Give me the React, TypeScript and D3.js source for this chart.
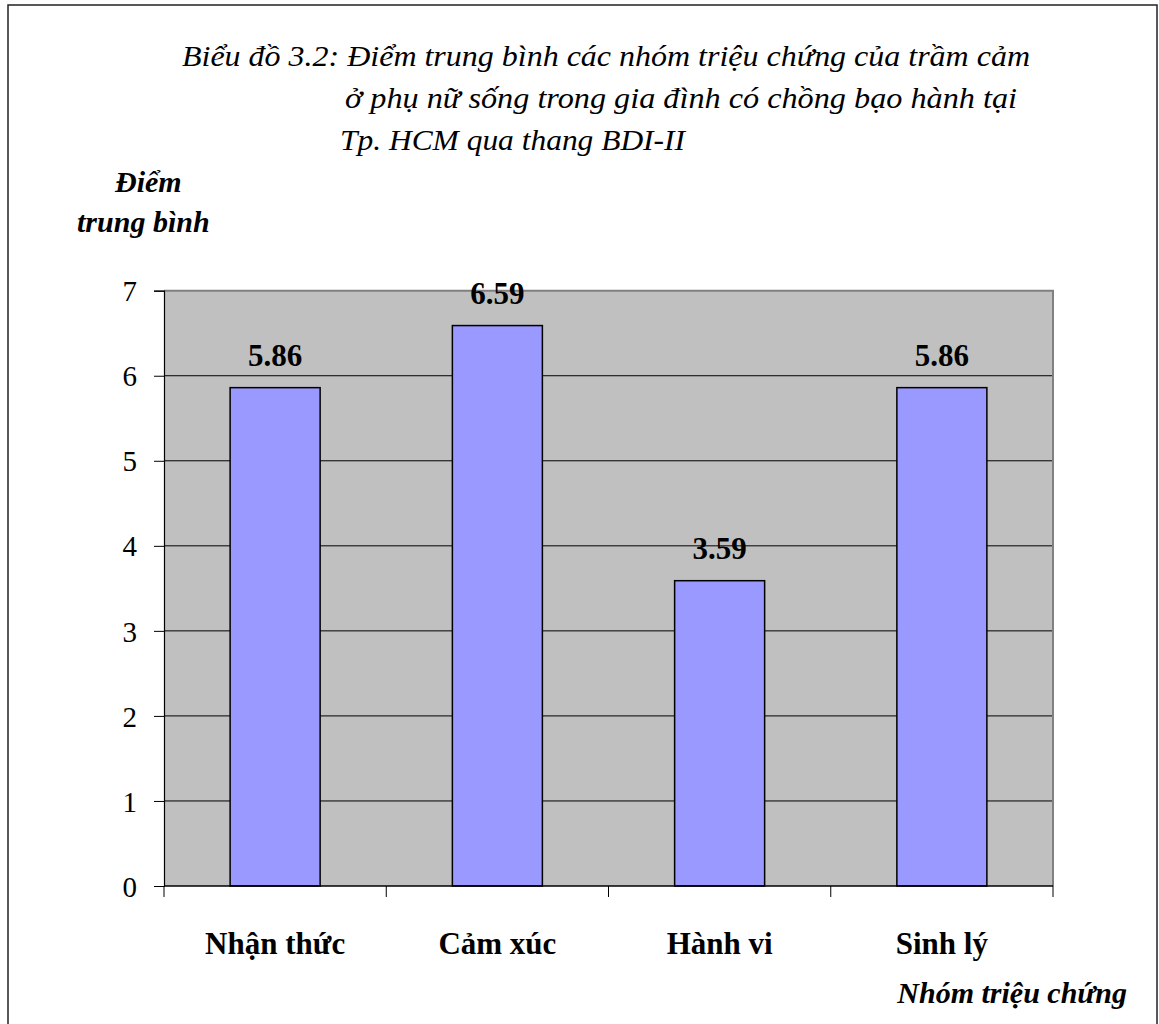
import React, { useEffect, useRef } from 'react';
import * as d3 from 'd3';

const categories = ['Nhận thức', 'Cảm xúc', 'Hành vi', 'Sinh lý'];
const values = [5.86, 6.59, 3.59, 5.86];
const yTicks = [0, 1, 2, 3, 4, 5, 6, 7];
const titleLines = [
  'Biểu đồ 3.2: Điểm trung bình các nhóm triệu chứng của trầm cảm',
  'ở phụ nữ sống trong gia đình có chồng bạo hành tại',
  'Tp. HCM qua thang BDI-II',
];

const FONT = '"Liberation Serif", "Times New Roman", serif';

const App = () => {
  const svgRef = useRef<SVGSVGElement>(null);

  useEffect(() => {
    const root = d3.select(svgRef.current);
    root.selectAll('*').remove();

    const width = 1159;
    const height = 1024;
    const left = 164;
    const right = 1053;
    const top = 290.7;
    const bottom = 886;

    const svg = root.attr('width', width).attr('height', height);

    // outer frame
    svg.append('rect')
      .attr('x', 8).attr('y', 5)
      .attr('width', 1149).attr('height', 1040)
      .attr('fill', 'white')
      .attr('stroke', '#222').attr('stroke-width', 1.5);

    // title
    const titlePos = [
      { x: 182, y: 66, w: 848 },
      { x: 345, y: 108, w: 672 },
      { x: 340, y: 150, w: 345 },
    ];
    titleLines.forEach((t, i) => {
      svg.append('text')
        .attr('x', titlePos[i].x).attr('y', titlePos[i].y)
        .attr('textLength', titlePos[i].w)
        .attr('lengthAdjust', 'spacingAndGlyphs')
        .style('font-family', FONT)
        .style('font-style', 'italic')
        .style('font-size', '30px')
        .text(t);
    });

    const x = d3.scaleBand<string>()
      .domain(categories)
      .range([left, right])
      .paddingInner(0.595)
      .paddingOuter(0.2975);

    const y = d3.scaleLinear().domain([0, 7]).range([bottom, top]);

    // plot background
    svg.append('rect')
      .attr('x', left).attr('y', top)
      .attr('width', right - left).attr('height', bottom - top)
      .attr('fill', '#c0c0c0');

    // gridlines
    svg.append('g')
      .selectAll('line')
      .data(yTicks.filter(d => d > 0 && d < 7))
      .enter().append('line')
      .attr('x1', left).attr('x2', right)
      .attr('y1', d => y(d)).attr('y2', d => y(d))
      .attr('stroke', 'black').attr('stroke-width', 1);

    // top / right border
    svg.append('path')
      .attr('d', `M${left},${top}H${right}V${bottom}`)
      .attr('fill', 'none')
      .attr('stroke', '#808080').attr('stroke-width', 2);

    // bars
    svg.append('g')
      .selectAll('rect')
      .data(values)
      .enter().append('rect')
      .attr('x', (d, i) => x(categories[i]) as number)
      .attr('y', d => y(d))
      .attr('width', x.bandwidth())
      .attr('height', d => bottom - y(d))
      .attr('fill', '#9999ff')
      .attr('stroke', 'black').attr('stroke-width', 1.5);

    // value labels
    svg.append('g')
      .selectAll('text')
      .data(values)
      .enter().append('text')
      .attr('x', (d, i) => (x(categories[i]) as number) + x.bandwidth() / 2)
      .attr('y', d => y(d) - 22)
      .attr('text-anchor', 'middle')
      .style('font-family', FONT)
      .style('font-weight', 'bold')
      .style('font-size', '31px')
      .text(d => d.toFixed(2));

    // y axis
    const yAxis = d3.axisLeft(y).tickValues(yTicks).tickSize(10).tickPadding(17).tickFormat(d3.format('d'));
    const gy = svg.append('g').attr('transform', `translate(${left},0)`).call(yAxis);
    gy.selectAll('line').attr('stroke', 'black').attr('stroke-width', 1);
    gy.select('.domain').attr('stroke', 'black').attr('stroke-width', 1.2);
    gy.selectAll('text')
      .style('font-family', FONT)
      .style('font-size', '29px')
      .attr('dy', '0.35em')
      .attr('fill', 'black');

    // x axis line and ticks at category boundaries
    svg.append('line')
      .attr('x1', left).attr('x2', right)
      .attr('y1', bottom).attr('y2', bottom)
      .attr('stroke', 'black').attr('stroke-width', 1.5);
    const bounds = categories.map(c => (x(c) as number) - x.step() * x.paddingInner() / 2);
    bounds.push(right);
    bounds[0] = left;
    svg.append('g')
      .selectAll('line')
      .data(bounds)
      .enter().append('line')
      .attr('x1', d => d).attr('x2', d => d)
      .attr('y1', bottom).attr('y2', bottom + 11)
      .attr('stroke', 'black').attr('stroke-width', 1);

    // category labels
    svg.append('g')
      .selectAll('text')
      .data(categories)
      .enter().append('text')
      .attr('x', d => (x(d) as number) + x.bandwidth() / 2)
      .attr('y', 954)
      .attr('text-anchor', 'middle')
      .style('font-family', FONT)
      .style('font-weight', 'bold')
      .style('font-size', '31px')
      .text(d => d);

    // axis titles
    const axisTitle = (t: string, xx: number, yy: number, anchor: string) =>
      svg.append('text')
        .attr('x', xx).attr('y', yy)
        .attr('text-anchor', anchor)
        .style('font-family', FONT)
        .style('font-weight', 'bold')
        .style('font-style', 'italic')
        .style('font-size', '30px')
        .text(t);
    axisTitle('Điểm', 115, 192, 'start');
    axisTitle('trung bình', 77, 232, 'start');
    axisTitle('Nhóm triệu chứng', 1127, 1003, 'end');
  }, []);

  return <svg ref={svgRef} style={{ display: 'block', position: 'absolute', left: 0, top: 0 }}></svg>;
};

export default App;
